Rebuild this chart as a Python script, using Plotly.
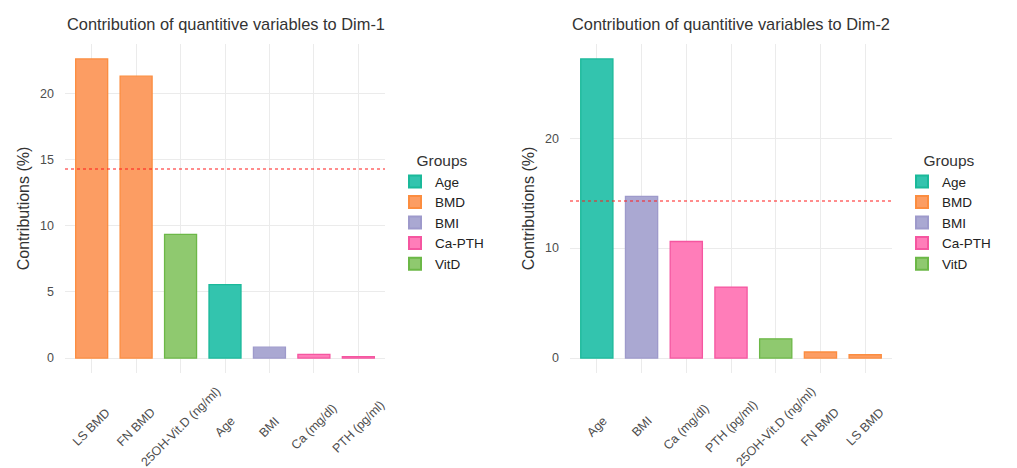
import plotly.graph_objects as go

# ---- data ----
groups = ["Age", "BMD", "BMI", "Ca-PTH", "VitD"]
group_fill = {"Age": "#33C4AE", "BMD": "#FC9D63", "BMI": "#AAA8D2", "Ca-PTH": "#FF7DB9", "VitD": "#8FC96F"}
group_line = {"Age": "#1BB99A", "BMD": "#FC8D40", "BMI": "#9E9ACB", "Ca-PTH": "#F556A0", "VitD": "#6CB847"}

var_group = {"LS BMD": "BMD", "FN BMD": "BMD", "25OH-Vit.D (ng/ml)": "VitD", "Age": "Age",
             "BMI": "BMI", "Ca (mg/dl)": "Ca-PTH", "PTH (pg/ml)": "Ca-PTH"}

dim1_vars = ["LS BMD", "FN BMD", "25OH-Vit.D (ng/ml)", "Age", "BMI", "Ca (mg/dl)", "PTH (pg/ml)"]
dim1_vals = [22.6, 21.3, 9.35, 5.55, 0.82, 0.27, 0.1]

dim2_vars = ["Age", "BMI", "Ca (mg/dl)", "PTH (pg/ml)", "25OH-Vit.D (ng/ml)", "FN BMD", "LS BMD"]
dim2_vals = [27.2, 14.7, 10.6, 6.45, 1.75, 0.55, 0.3]

ref_line = 100 / 7

titles = ["Contribution of quantitive variables to Dim-1", "Contribution of quantitive variables to Dim-2"]

FONT = "Liberation Sans, Arial, sans-serif"

W, H = 1017, 468


def px_x(v):
    return v / W


def px_y(v):
    return 1 - v / H


fig = go.Figure()

panels = [
    dict(vars=dim1_vars, vals=dim1_vals, xa="x", ya="y", legend="legend", xdom=(65, 385), leg_x=409),
    dict(vars=dim2_vars, vals=dim2_vals, xa="x2", ya="y2", legend="legend2", xdom=(570, 892), leg_x=916),
]
ydom_px = (44, 373)

for p in panels:
    for g in groups:
        xs = [v for v in p["vars"] if var_group[v] == g]
        ys = [val for v, val in zip(p["vars"], p["vals"]) if var_group[v] == g]
        fig.add_trace(go.Bar(
            x=xs, y=ys, name=g, xaxis=p["xa"], yaxis=p["ya"], legend=p["legend"],
            marker=dict(color=group_fill[g], line=dict(color=group_line[g], width=1.3)),
            width=0.72, showlegend=True, hoverinfo="x+y",
        ))

grid = "#EBEBEB"
tickfont = dict(family=FONT, size=12.5, color="#4D4D4D")
titlefont = dict(family=FONT, size=16, color="#333333")

fig.update_layout(
    width=W, height=H, barmode="overlay",
    paper_bgcolor="white", plot_bgcolor="white",
    margin=dict(l=0, r=0, t=0, b=0),
    font=dict(family=FONT, color="#333333"),
    template="none",
)

for i, p in enumerate(panels):
    sfx = "" if i == 0 else "2"
    ymax = max(p["vals"])
    fig.update_layout(**{
        "xaxis" + sfx: dict(
            domain=[px_x(p["xdom"][0]), px_x(p["xdom"][1])], anchor="y" + sfx,
            categoryorder="array", categoryarray=p["vars"],
            showgrid=True, gridcolor=grid, gridwidth=1, zeroline=False, showline=False,
            ticks="", showticklabels=False, automargin=False,
            range=[-0.6, len(p["vars"]) - 0.4],
        ),
        "yaxis" + sfx: dict(
            domain=[px_y(ydom_px[1]), px_y(ydom_px[0])], anchor="x" + sfx,
            range=[-0.05 * ymax, 1.05 * ymax],
            dtick=5 if i == 0 else 10,
            showgrid=True, gridcolor=grid, gridwidth=1, zeroline=False, showline=False,
            ticks="", tickfont=tickfont, automargin=False, ticklabelstandoff=10,
            title=dict(text="Contributions (%)", font=titlefont, standoff=6),
        ),
    })
    fig.add_shape(type="line", xref="x" + sfx + " domain", yref="y" + sfx,
                  x0=0, x1=1, y0=ref_line, y1=ref_line,
                  line=dict(color="#FF1A1A", width=1.1, dash="3px,3px"))
    fig.add_annotation(text=titles[i], xref="paper", yref="paper",
                       x=px_x(p["xdom"][0]), y=px_y(24), xanchor="left", yanchor="middle",
                       showarrow=False, font=dict(family=FONT, size=16.4, color="#333333"))
    # rotated category labels, centred under each category (ggplot-style)
    for v in p["vars"]:
        fig.add_annotation(text=v, xref="x" + sfx, yref="paper", x=v, y=px_y(427),
                           xanchor="center", yanchor="middle", textangle=-45,
                           showarrow=False, font=tickfont)

legend_common = dict(
    yanchor="top", xanchor="left", bgcolor="rgba(0,0,0,0)",
    font=dict(family=FONT, size=13.5, color="#222222"),
    title=dict(text="Groups", side="top center", font=dict(family=FONT, size=15.5, color="#333333")),
    tracegroupgap=0, itemsizing="constant",
)
fig.update_layout(
    legend=dict(x=px_x(panels[0]["leg_x"] - 14), y=px_y(146), **legend_common),
    legend2=dict(x=px_x(panels[1]["leg_x"] - 14), y=px_y(146), **legend_common),
)

# remove the default 8px page margin so the figure fills the window exactly
fig.write_html("out.html", config={"displayModeBar": False},
               post_script="document.body.style.margin='0';")
